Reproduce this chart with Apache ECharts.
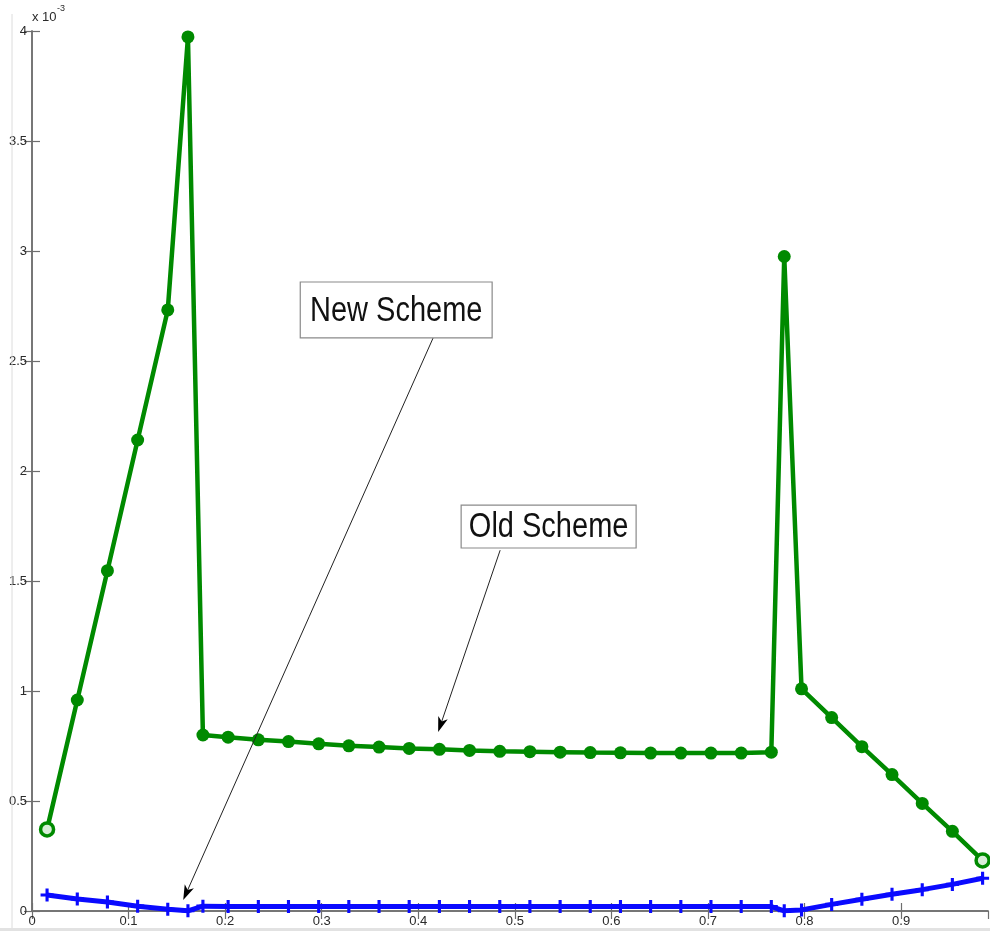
<!DOCTYPE html>
<html>
<head>
<meta charset="utf-8">
<script src="https://cdn.jsdelivr.net/npm/echarts@6/dist/echarts.min.js"></script>
<style>
  html, body { margin: 0; padding: 0; background: #fff; }
  #chart { width: 990px; height: 931px; }
</style>
</head>
<body>
<div id="chart"></div>
<script>
// ---- data (y values in units of 1e-3) ----
const xValues = [0.0156, 0.0469, 0.0781, 0.1094, 0.1406, 0.1615, 0.1770, 0.2031, 0.2344, 0.2656,
  0.2969, 0.3281, 0.3594, 0.3906, 0.4219, 0.4531, 0.4844, 0.5156, 0.5469, 0.5781,
  0.6094, 0.6406, 0.6719, 0.7031, 0.7344, 0.7656, 0.7790, 0.7969, 0.8281, 0.8594,
  0.8906, 0.9219, 0.9531, 0.9844];
const oldScheme = [0.371, 0.959, 1.547, 2.141, 2.732, 3.973, 0.800, 0.790, 0.778, 0.770,
  0.760, 0.751, 0.745, 0.739, 0.735, 0.730, 0.726, 0.724, 0.722, 0.720,
  0.719, 0.718, 0.718, 0.718, 0.718, 0.722, 2.975, 1.010, 0.879, 0.747,
  0.620, 0.489, 0.362, 0.230];
const newScheme = [0.073, 0.055, 0.041, 0.022, 0.008, 0.001, 0.022, 0.021, 0.020, 0.020,
  0.020, 0.020, 0.020, 0.020, 0.020, 0.020, 0.020, 0.020, 0.020, 0.020,
  0.020, 0.020, 0.020, 0.020, 0.020, 0.020, 0.001, 0.005, 0.030, 0.053,
  0.076, 0.097, 0.121, 0.149];
const hollowIdx = [0, 33];
const xTickLabels = ['0', '0.1', '0.2', '0.3', '0.4', '0.5', '0.6', '0.7', '0.8', '0.9'];
const yTickLabels = ['0', '0.5', '1', '1.5', '2', '2.5', '3', '3.5', '4'];
const exponentText = 'x 10';
const exponentSup = '-3';

// annotations (data coordinates)
const annotations = [
  { text: 'New Scheme', box: [0.2778, 2.859, 0.4765, 2.605], from: [0.4154, 2.605], to: [0.1566, 0.05] },
  { text: 'Old Scheme', box: [0.4444, 1.845, 0.6256, 1.650], from: [0.4848, 1.640], to: [0.4206, 0.814] }
];

const GREEN = '#008a00';
const BLUE = '#0a0aff';
const AXIS = '#6e6e6e';
const PLUS = 'path://M3.8,0 L6.2,0 L6.2,3.8 L10,3.8 L10,6.2 L6.2,6.2 L6.2,10 L3.8,10 L3.8,6.2 L0,6.2 L0,3.8 L3.8,3.8 Z';

const chart = echarts.init(document.getElementById('chart'), null, { renderer: 'canvas' });

function xFmt(v) {
  const k = Math.round(v * 10);
  return Math.abs(v * 10 - k) < 1e-6 && k < xTickLabels.length ? xTickLabels[k] : '';
}
function yFmt(v) {
  const k = Math.round(v * 2);
  return Math.abs(v * 2 - k) < 1e-6 && k < yTickLabels.length ? yTickLabels[k] : '';
}

const axisCommon = {
  type: 'value',
  splitLine: { show: false },
  axisLine: { show: true, lineStyle: { color: AXIS, width: 1.5 } },
  axisTick: { show: true, inside: true, length: 8, lineStyle: { color: AXIS, width: 1.2 } }
};

const greenData = xValues.map((x, i) => {
  const d = { value: [x, oldScheme[i]] };
  if (hollowIdx.includes(i)) d.itemStyle = { color: '#d8eed8', borderColor: GREEN, borderWidth: 3.5 };
  return d;
});
const blueData = xValues.map((x, i) => [x, newScheme[i]]);

chart.setOption({
  animation: false,
  backgroundColor: '#fff',
  grid: { left: 32, right: 2, top: 31, bottom: 20 },
  xAxis: [
    Object.assign({}, axisCommon, {
      position: 'bottom', min: 0, max: 0.99, interval: 0.1,
      axisLabel: { formatter: xFmt, color: '#2a2a2a', fontSize: 13, fontFamily: 'Liberation Sans', margin: 4, showMaxLabel: false }
    }),
    Object.assign({}, axisCommon, {
      position: 'top', min: 0, max: 0.99, interval: 0.1,
      axisLabel: { show: false }
    })
  ],
  yAxis: [
    Object.assign({}, axisCommon, {
      position: 'left', min: 0, max: 4, interval: 0.5,
      axisLabel: { formatter: yFmt, color: '#2a2a2a', fontSize: 13, fontFamily: 'Liberation Sans', margin: 5 }
    }),
    Object.assign({}, axisCommon, {
      position: 'right', min: 0, max: 4, interval: 0.5,
      axisLabel: { show: false }
    })
  ],
  series: [
    {
      name: 'Old Scheme', type: 'line', xAxisIndex: 0, yAxisIndex: 0,
      data: greenData,
      lineStyle: { color: GREEN, width: 4.5 },
      itemStyle: { color: GREEN },
      symbol: 'circle', symbolSize: 13, showAllSymbol: true, z: 3
    },
    {
      name: 'New Scheme', type: 'line', xAxisIndex: 0, yAxisIndex: 0,
      data: blueData,
      lineStyle: { color: BLUE, width: 5 },
      itemStyle: { color: BLUE },
      symbol: PLUS, symbolSize: 13, showAllSymbol: true, z: 4
    }
  ]
});

// ---- annotations via data -> pixel conversion ----
const graphics = [];
graphics.push({ type: 'rect', shape: { x: 0, y: 928, width: 990, height: 3 }, style: { fill: '#e2e2e2' }, z: 1 });
graphics.push({ type: 'line', shape: { x1: 12, y1: 14, x2: 12, y2: 928 }, style: { stroke: '#dcdcdc', lineWidth: 1 }, z: 1 });
graphics.push({ type: 'text', x: 32, y: 17, style: { text: exponentText, fontSize: 13, fontFamily: 'Liberation Sans', fill: '#2a2a2a', textVerticalAlign: 'middle' }, z: 10 });
graphics.push({ type: 'text', x: 57, y: 9, style: { text: exponentSup, fontSize: 9, fontFamily: 'Liberation Sans', fill: '#2a2a2a', textVerticalAlign: 'middle' }, z: 10 });

const toPx = (p) => chart.convertToPixel({ xAxisIndex: 0, yAxisIndex: 0 }, p);

annotations.forEach(a => {
  const tl = toPx([a.box[0], a.box[1]]);
  const br = toPx([a.box[2], a.box[3]]);
  const f = toPx(a.from);
  const t = toPx(a.to);
  const dx = t[0] - f[0], dy = t[1] - f[1];
  const len = Math.sqrt(dx * dx + dy * dy);
  const ux = dx / len, uy = dy / len;
  const px = -uy, py = ux;
  const headL = 15, headW = 5, notch = 4;
  const baseX = t[0] - ux * headL, baseY = t[1] - uy * headL;
  graphics.push({ type: 'line', shape: { x1: f[0], y1: f[1], x2: t[0] - ux * 6, y2: t[1] - uy * 6 },
    style: { stroke: '#222', lineWidth: 1 }, z: 20 });
  graphics.push({ type: 'polygon', shape: { points: [
      [t[0], t[1]],
      [baseX + px * headW, baseY + py * headW],
      [t[0] - ux * (headL - notch), t[1] - uy * (headL - notch)],
      [baseX - px * headW, baseY - py * headW]
    ] }, style: { fill: '#000' }, z: 20 });
  graphics.push({ type: 'rect', shape: { x: tl[0], y: tl[1], width: br[0] - tl[0], height: br[1] - tl[1] },
    style: { fill: '#fff', stroke: '#8a8a8a', lineWidth: 1.2 }, z: 21 });
  const cx = (tl[0] + br[0]) / 2, cy = (tl[1] + br[1]) / 2;
  graphics.push({ type: 'text', x: cx, y: cy + 1, scaleY: 1.2,
    style: { text: a.text, fontSize: 29, fontFamily: 'Liberation Sans', fill: '#111', textAlign: 'center', textVerticalAlign: 'middle' }, z: 22 });
});

chart.setOption({ graphic: graphics });
</script>
</body>
</html>
